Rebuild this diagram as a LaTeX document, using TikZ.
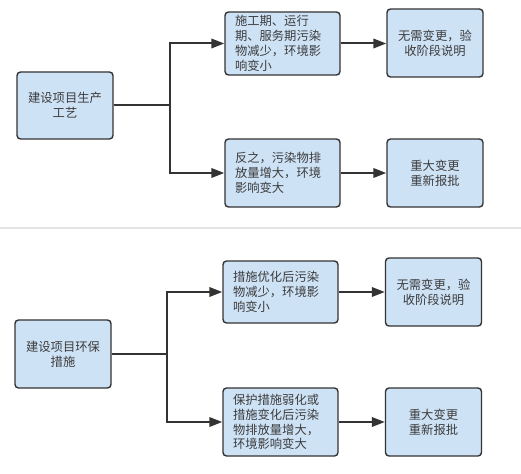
\documentclass[tikz,border=0pt]{standalone}
\usepackage{fontspec}
\setmainfont{Noto Sans CJK SC}
\usetikzlibrary{arrows.meta}
\definecolor{boxfill}{RGB}{206,226,246}
\definecolor{boxline}{RGB}{51,51,51}
\definecolor{txt}{RGB}{60,60,60}
\definecolor{divider}{RGB}{228,228,228}
\tikzset{
  x=1pt, y=-1pt,
  base/.style={draw=boxline, fill=boxfill, line width=1.4pt, rounded corners=3.5pt,
    font=\fontsize{12.3}{14.8}\selectfont, text=txt, inner sep=0pt},
  srcbox/.style={base, minimum width=96pt, minimum height=67pt, align=center},
  midbox/.style={base, minimum width=115pt, text width=95pt, inner xsep=10pt, align=left},
  resbox/.style={base, minimum width=96pt, minimum height=68pt, align=center},
  link/.style={draw=boxline, line width=2pt},
  arr/.style={link, -{Triangle[length=13pt,width=9.5pt]}}
}
\begin{document}
\begin{tikzpicture}
\useasboundingbox (0,0) rectangle (521,473);
% top group
\node[srcbox] (L1) at (65,105.5) {建设项目生产\\工艺};
\node[midbox, minimum height=63pt] (M1a) at (282.5,43.5) {施工期、运行\\期、服务期污染\\物减少，环境影\\响变小};
\node[midbox, minimum height=68pt] (M1b) at (282.5,173) {反之，污染物排\\放量增大，环境\\影响变大};
\node[resbox] (R1a) at (435,43) {无需变更，验\\收阶段说明};
\node[resbox] (R1b) at (435,173) {重大变更\\重新报批};
\coordinate (J1) at (170,105.5);
\draw[link] (L1.east) -- (J1);
\draw[arr] (J1) |- (M1a.west);
\draw[arr] (J1) |- (M1b.west);
\draw[arr] (M1a.east) -- (M1a.east -| R1a.west);
\draw[arr] (M1b.east) -- (M1b.east -| R1b.west);
% divider
\coordinate (D1) at (0,228);
\coordinate (D2) at (521,228);
\draw[divider, line width=1.3pt] (D1) -- (D2);
% bottom group
\node[srcbox, minimum height=68pt] (L2) at (63,354) {建设项目环保\\措施};
\node[midbox, minimum height=62pt] (M2a) at (280.5,292) {措施优化后污染\\物减少，环境影\\响变小};
\node[midbox, minimum height=68pt] (M2b) at (280.5,422) {保护措施弱化或\\措施变化后污染\\物排放量增大，\\环境影响变大};
\node[resbox] (R2a) at (433.5,292) {无需变更，验\\收阶段说明};
\node[resbox] (R2b) at (433.5,422) {重大变更\\重新报批};
\coordinate (J2) at (167,354);
\draw[link] (L2.east) -- (J2);
\draw[arr] (J2) |- (M2a.west);
\draw[arr] (J2) |- (M2b.west);
\draw[arr] (M2a.east) -- (M2a.east -| R2a.west);
\draw[arr] (M2b.east) -- (M2b.east -| R2b.west);
\end{tikzpicture}
\end{document}
